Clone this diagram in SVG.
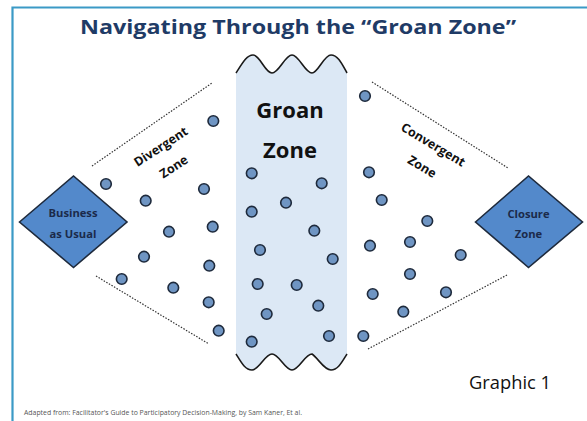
<svg xmlns="http://www.w3.org/2000/svg" width="587" height="421" viewBox="0 0 587 421">
<style>
.dot{fill:#6f95c3;stroke:#1e2a3c;stroke-width:1.6}
.dia{fill:#5389cb;stroke:#1e2a3c;stroke-width:1.6}
.dl{fill:#1b2a4a;font-family:"Open Sans","Liberation Sans",sans-serif;font-weight:bold;font-size:11.2px;text-anchor:middle}
.zl{fill:#111;font-family:"Open Sans","Liberation Sans",sans-serif;font-weight:bold;font-size:12.5px;text-anchor:middle}
.dot-line{stroke:#333;stroke-width:1.2;stroke-dasharray:1.5 1.5;fill:none}
.wave{fill:none;stroke:#1a1a1a;stroke-width:1.6}
</style>
<rect width="587" height="421" fill="#ffffff"/>
<path d="M12.5,421 L12.5,7.5 L587,7.5" fill="none" stroke="#3b9ac6" stroke-width="2.2"/>
<text x="298" y="34" font-family="Open Sans, Liberation Sans, sans-serif" font-weight="bold" font-size="19.5" fill="#1f3b66" text-anchor="middle" textLength="436" lengthAdjust="spacingAndGlyphs">Navigating Through the “Groan Zone”</text>
<g id="groan-zone">
<path d="M236,73 C243,62 247,55 253,55 C260,55 265,73 272,73 C279,73 285,55 292,55 C299,55 305,73 312,73 C318,73 324,55 331,55 C338,55 342,64 347,73 L347,354 C342,362 338,370 331,370 C324,370 318,354 312,354 C305,354 299,370 292,370 C285,370 279,354 272,354 C265,354 259,370 252,370 C245,370 241,362 236,354 Z" fill="#dce8f5"/>
<path class="wave" d="M236,73 C243,62 247,55 253,55 C260,55 265,73 272,73 C279,73 285,55 292,55 C299,55 305,73 312,73 C318,73 324,55 331,55 C338,55 342,64 347,73"/>
<path class="wave" d="M236,354 C241,362 245,370 252,370 C259,370 265,354 272,354 C279,354 285,370 292,370 C299,370 305,354 312,354 C318,358 324,370 331,370 C338,370 342,362 347,354"/>
<text x="290" y="118" font-family="Open Sans, Liberation Sans, sans-serif" font-weight="bold" font-size="22" fill="#111" text-anchor="middle">Groan</text>
<text x="290" y="158" font-family="Open Sans, Liberation Sans, sans-serif" font-weight="bold" font-size="22" fill="#111" text-anchor="middle">Zone</text>
</g>
<g id="connectors">
<line class="dot-line" x1="92" y1="166" x2="212" y2="83"/>
<line class="dot-line" x1="96" y1="276" x2="209" y2="344"/>
<line class="dot-line" x1="372" y1="82" x2="508" y2="168"/>
<line class="dot-line" x1="368" y1="349" x2="507" y2="275"/>
</g>
<g id="business-as-usual">
<polygon class="dia" points="19.5,222 73.5,176 127,222 73.5,267.5"/>
<text class="dl" x="73" y="217">Business</text>
<text class="dl" x="73" y="238">as Usual</text>
</g>
<g id="closure-zone">
<polygon class="dia" points="475.5,222 528.5,176 582.5,222 528.5,267.5"/>
<text class="dl" x="528.5" y="218">Closure</text>
<text class="dl" x="528.5" y="238">Zone</text>
</g>
<g id="divergent-zone">
<text class="zl" transform="translate(161,147) rotate(-33)" y="4">Divergent</text>
<text class="zl" transform="translate(174,167) rotate(-33)" y="4">Zone</text>
</g>
<g id="convergent-zone">
<text class="zl" transform="translate(433,145) rotate(31)" y="4">Convergent</text>
<text class="zl" transform="translate(422,167) rotate(31)" y="4">Zone</text>
</g>
<g id="dots">
<circle class="dot" cx="106" cy="184" r="5.3"/>
<circle class="dot" cx="213.3" cy="121" r="5.3"/>
<circle class="dot" cx="145.7" cy="200.7" r="5.3"/>
<circle class="dot" cx="204" cy="189" r="5.3"/>
<circle class="dot" cx="169" cy="231.7" r="5.3"/>
<circle class="dot" cx="212.7" cy="226.7" r="5.3"/>
<circle class="dot" cx="144" cy="256.7" r="5.3"/>
<circle class="dot" cx="209.3" cy="265.7" r="5.3"/>
<circle class="dot" cx="121.7" cy="279" r="5.3"/>
<circle class="dot" cx="173.3" cy="287.7" r="5.3"/>
<circle class="dot" cx="208.7" cy="302.3" r="5.3"/>
<circle class="dot" cx="218.7" cy="330.7" r="5.3"/>
<circle class="dot" cx="251.7" cy="173.3" r="5.3"/>
<circle class="dot" cx="321.7" cy="183.3" r="5.3"/>
<circle class="dot" cx="286" cy="202.7" r="5.3"/>
<circle class="dot" cx="251.7" cy="211.7" r="5.3"/>
<circle class="dot" cx="314.3" cy="230.7" r="5.3"/>
<circle class="dot" cx="260" cy="250" r="5.3"/>
<circle class="dot" cx="332.7" cy="259" r="5.3"/>
<circle class="dot" cx="257.7" cy="284" r="5.3"/>
<circle class="dot" cx="296.7" cy="285" r="5.3"/>
<circle class="dot" cx="318.3" cy="305.7" r="5.3"/>
<circle class="dot" cx="266.7" cy="314" r="5.3"/>
<circle class="dot" cx="251.7" cy="341.7" r="5.3"/>
<circle class="dot" cx="329" cy="336" r="5.3"/>
<circle class="dot" cx="365" cy="96" r="5.3"/>
<circle class="dot" cx="369" cy="172.3" r="5.3"/>
<circle class="dot" cx="381.7" cy="200" r="5.3"/>
<circle class="dot" cx="427.3" cy="221" r="5.3"/>
<circle class="dot" cx="410" cy="242" r="5.3"/>
<circle class="dot" cx="370" cy="245.7" r="5.3"/>
<circle class="dot" cx="460.7" cy="255" r="5.3"/>
<circle class="dot" cx="410" cy="274" r="5.3"/>
<circle class="dot" cx="446" cy="292.3" r="5.3"/>
<circle class="dot" cx="372.7" cy="294" r="5.3"/>
<circle class="dot" cx="403.3" cy="311.7" r="5.3"/>
<circle class="dot" cx="363.3" cy="336" r="5.3"/>
</g>
<text x="469" y="389" font-family="Open Sans, Liberation Sans, sans-serif" font-size="17.5" fill="#111" textLength="82" lengthAdjust="spacingAndGlyphs">Graphic 1</text>
<text x="24" y="415" font-family="Open Sans, Liberation Sans, sans-serif" font-size="6.4" fill="#555" textLength="278" lengthAdjust="spacingAndGlyphs">Adapted from: Facilitator's Guide to Participatory Decision-Making, by Sam Kaner, Et al.</text>
</svg>
